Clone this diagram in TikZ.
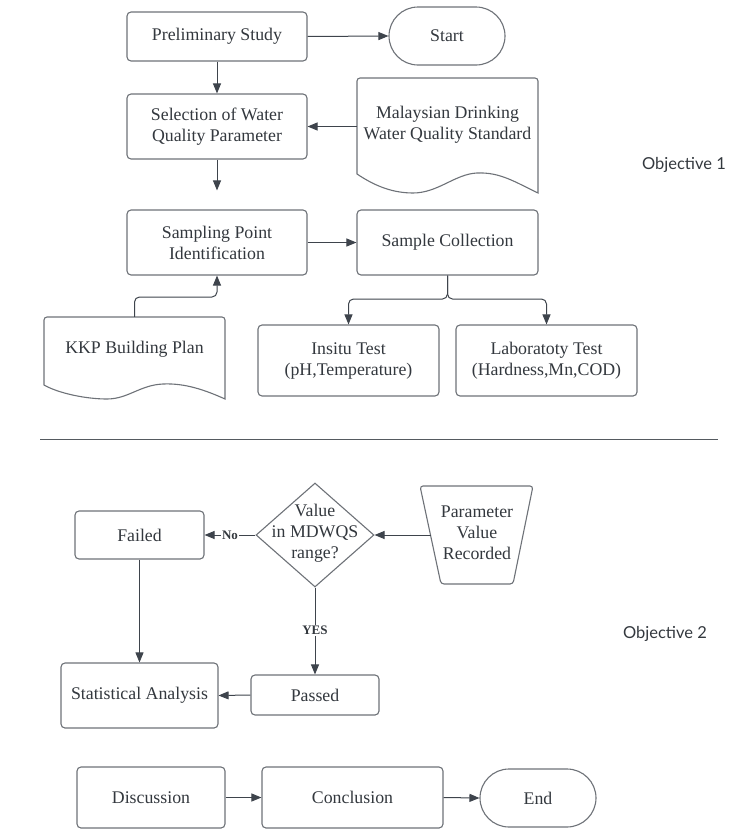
\documentclass[tikz,border=0pt]{standalone}
\usepackage{fontspec}
\setmainfont{Liberation Serif}
\newfontfamily\objfont{Lato}
\usetikzlibrary{arrows.meta,shapes.geometric,shapes.misc}
\definecolor{bordc}{HTML}{6E7278}
\definecolor{arrc}{HTML}{3E444C}
\definecolor{txtc}{HTML}{33383E}
\definecolor{sepc}{HTML}{555A60}
\newcommand\mainfs{\fontsize{17.8}{21}\selectfont}
\newcommand\lblfs{\fontsize{13}{15}\selectfont}
\newcommand\objfs{\objfont\fontsize{16.5}{20}\selectfont}
\begin{document}
\begin{tikzpicture}[x=1pt,y=-1pt,
  every node/.style={text=txtc},
  box/.style={draw=bordc, line width=1.1pt, rounded corners=4pt, fill=white, align=center, font=\mainfs, inner sep=0pt},
  term/.style={draw=bordc, line width=1.1pt, rounded rectangle, fill=white, font=\mainfs, inner sep=0pt},
  shapeline/.style={draw=bordc, line width=1.1pt, fill=white},
  txt/.style={align=center, font=\mainfs, inner sep=0pt},
  arr/.style={draw=arrc, line width=1pt, -{Triangle[length=10pt,width=8pt]}},
  lbl/.style={font=\lblfs\bfseries, fill=white, inner sep=1pt},
  obj/.style={font=\objfs}]
\useasboundingbox (0,0) rectangle (729,830);

% ---------- Objective 1 ----------
\node[box, minimum width=180pt, minimum height=49pt] (prelim) at (217,36.5) {Preliminary Study};
\node[term, minimum width=116pt, minimum height=58pt] (start) at (447,36) {Start};
\node[box, minimum width=180pt, minimum height=65pt] (sel) at (217,126.5) {Selection of Water\\Quality Parameter};

\draw[shapeline] (357,174) [rounded corners=3pt] -- (357,78) -- (538,78) [sharp corners] -- (538,193)
  .. controls (515,182) and (500,172) .. (477,173)
  .. controls (455,174) and (438,193) .. (413,193)
  .. controls (390,193) and (372,184) .. (357,174) -- cycle;
\node[txt] (mds) at (447.5,125) {Malaysian Drinking\\Water Quality Standard};
\coordinate (mdsL) at (357,126.5);

\node[box, minimum width=180pt, minimum height=65pt] (spi) at (217,242.5) {Sampling Point\\Identification};
\node[box, minimum width=181pt, minimum height=65pt] (sc) at (447.5,242.5) {Sample Collection};

\draw[shapeline] (44,385) [rounded corners=3pt] -- (44,317) -- (225,317) [sharp corners] -- (225,399)
  .. controls (205,390) and (185,383) .. (163,384)
  .. controls (140,385) and (128,399) .. (107,399)
  .. controls (85,399) and (58,393) .. (44,385) -- cycle;
\node[txt, minimum width=181pt, minimum height=64pt] (kkp) at (134.5,349) {KKP Building Plan};

\node[box, minimum width=181pt, minimum height=71pt] (ins) at (348.5,360.5) {Insitu Test\\(pH,Temperature)};
\node[box, minimum width=181pt, minimum height=71pt] (lab) at (546.5,360.5) {Laboratoty Test\\(Hardness,Mn,COD)};
\node[obj] (obj1) at (684,165) {Objective 1};

\draw[arr] (prelim.east) -- (start.west);
\draw[arr] (prelim.south) -- (sel.north);
\draw[arr] (mdsL) -- (sel.east);
\draw[arr, shorten >=19pt] (sel.south) -- (spi.north);
\draw[arr] (spi.east) -- (sc.west);
\coordinate (kkpbend) at (134.5,297);
\draw[arr, rounded corners=5pt] (kkp.north) -- (kkpbend) -| (spi.south);
\coordinate (scsplit) at (447.5,299);
\draw[arr, rounded corners=5pt] (sc.south) -- (scsplit) -| (ins.north);
\draw[arr, rounded corners=5pt] (sc.south) -- (scsplit) -| (lab.north);

% ---------- separator ----------
\coordinate (sepL) at (40,439);
\coordinate (sepR) at (718,439);
\draw[draw=sepc, line width=1pt] (sepL) -- (sepR);

% ---------- Objective 2 ----------
\node[box, minimum width=129pt, minimum height=48pt] (failed) at (139.5,535) {Failed};
\node[draw=bordc, line width=1.1pt, diamond, minimum width=118pt, minimum height=104pt, inner sep=0pt, fill=white] (dec) at (315,535) {};
\node[txt] (dect) at (315,533) {Value\\in MDWQS\\range?};

\draw[shapeline, rounded corners=3pt] (420,486) -- (533,486) -- (513,584) -- (441,584) -- cycle;
\node[txt] (prv) at (477,533) {Parameter\\Value\\Recorded};
\coordinate (prvL) at (430.5,535);

\node[box, minimum width=128pt, minimum height=40pt] (passed) at (315,695) {Passed};
\node[box, minimum width=157pt, minimum height=65pt] (stat) at (139.5,695.5) {Statistical Analysis};
\node[obj] (obj2) at (665,634) {Objective 2};

\draw[arr] (prvL) -- (dec.east);
\draw[arr] (dec.west) -- node[lbl]{No} (failed.east);
\draw[arr] (dec.south) -- node[lbl, pos=0.49]{YES} (passed.north);
\draw[arr, line width=0.8pt] (failed.south) -- (stat.north);
\draw[arr] (passed.west) -- (stat.east);

% ---------- bottom row ----------
\node[box, minimum width=148pt, minimum height=61pt] (disc) at (151,797.5) {Discussion};
\node[box, minimum width=181pt, minimum height=61pt] (conc) at (352.5,797.5) {Conclusion};
\node[term, minimum width=116pt, minimum height=58pt] (end) at (538,798) {End};
\draw[arr] (disc.east) -- (conc.west);
\draw[arr] (conc.east) -- (end.west);
\end{tikzpicture}
\end{document}
